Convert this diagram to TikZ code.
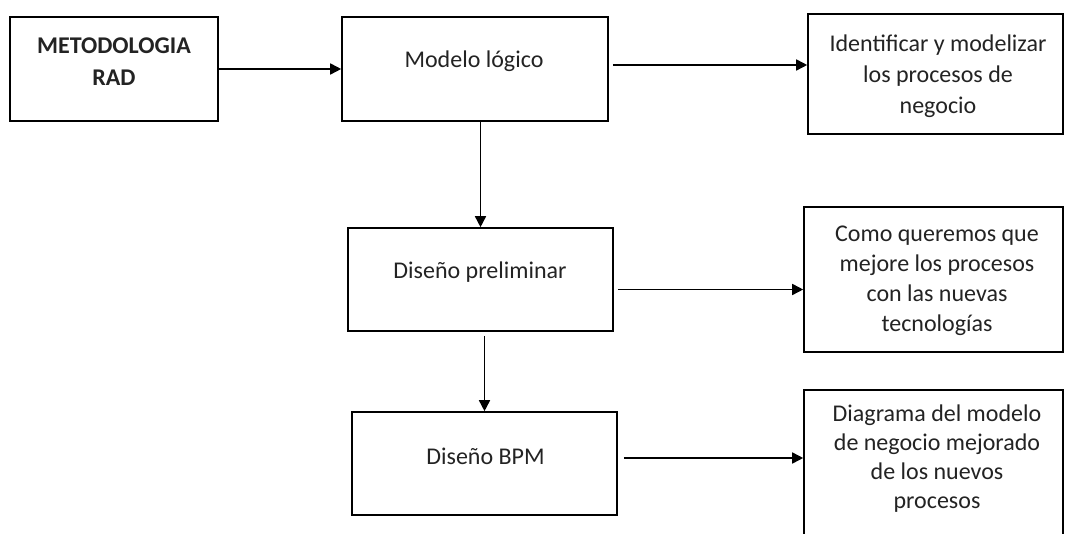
\documentclass[tikz,border=0pt]{standalone}
\usepackage{fontspec}
\setmainfont{Carlito}
\usetikzlibrary{arrows.meta,calc}
\definecolor{txtcol}{RGB}{35,35,35}
\begin{document}
\begin{tikzpicture}[x=1pt,y=-1pt,
  box/.style={draw=black,line width=1.6pt,rectangle,inner sep=0pt,fill=white},
  txt/.style={text=txtcol,font=\fontsize{24}{31}\selectfont,align=center,inner sep=0pt},
  arr/.style={line width=1.6pt,-{Triangle[length=11pt,width=11pt]}}]
\useasboundingbox[fill=white] (0,0) rectangle (1065,534);
\clip (0,0) rectangle (1065,534);
% boxes
\node[box,minimum width=208pt,minimum height=104pt] (b1) at (114,69) {};
\node[box,minimum width=266pt,minimum height=104pt] (b2) at (475,69) {};
\node[box,minimum width=255pt,minimum height=120pt] (b3) at (935.5,74) {};
\node[box,minimum width=265pt,minimum height=103pt] (b4) at (480.5,279.5) {};
\node[box,minimum width=259pt,minimum height=145pt] (b5) at (933.5,279.5) {};
\node[box,minimum width=265pt,minimum height=103pt] (b6) at (484.5,463.5) {};
\node[box,minimum width=259pt,minimum height=160pt] (b7) at (933.5,470) {};
% texts
\node[txt,font=\fontsize{24}{32}\selectfont\bfseries] (t1) at (114,62) {METODOLOGIA\\RAD};
\node[txt] (t2) at (474,61) {Modelo lógico};
\node[txt] (t3) at (938,76) {Identificar y modelizar\\los procesos de\\negocio};
\node[txt] (t4) at (480,272) {Diseño preliminar};
\node[txt,font=\fontsize{24}{30}\selectfont] (t5) at (937,281) {Como queremos que\\mejore los procesos\\con las nuevas\\tecnologías};
\node[txt] (t6) at (485.5,456) {Diseño BPM};
\node[txt,font=\fontsize{24}{29}\selectfont] (t7) at (937,459) {Diagrama del modelo\\de negocio mejorado\\de los nuevos\\procesos};
% connectors
\draw[arr] (b1.east) -- (b2.west);
\draw[arr] ([xshift=4pt,yshift=4pt]b2.east) -- ([yshift=4pt]b2.east -| b3.west);
\draw[arr] (b2.south -| b4.north) -- (b4.north);
\draw[arr] ([xshift=4pt,yshift=-10pt]b4.east) -- ([yshift=-10pt]b4.east -| b5.west);
\draw[arr] ([yshift=-4pt]b4.south -| b6.north) -- (b6.north);
\draw[arr] ([xshift=6pt,yshift=5.5pt]b6.east) -- ([yshift=5.5pt]b6.east -| b7.west);
\end{tikzpicture}
\end{document}
